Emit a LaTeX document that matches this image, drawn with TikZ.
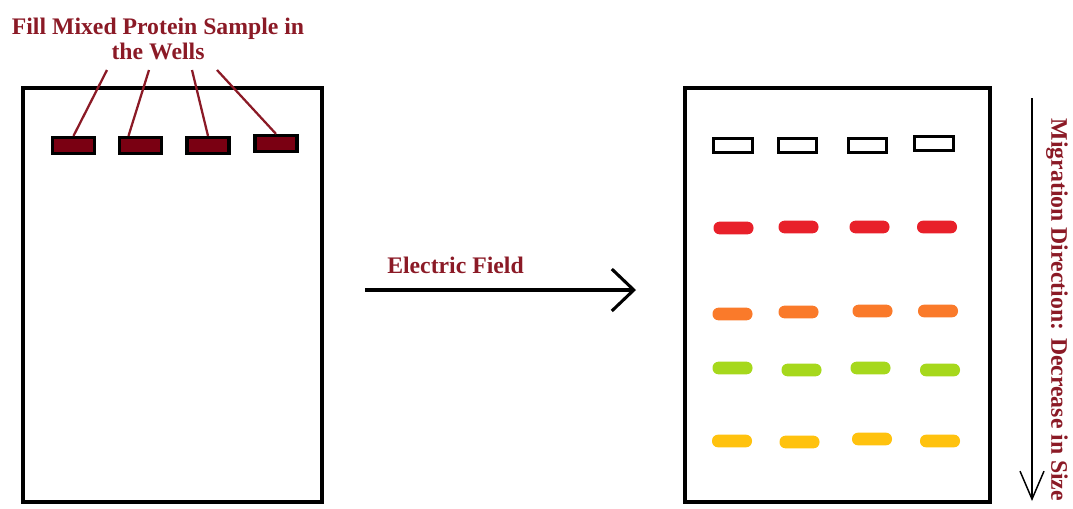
\documentclass[tikz,border=0pt]{standalone}
\usepackage{fontspec}
\setmainfont{Liberation Serif}
\usetikzlibrary{arrows.meta}
\definecolor{wine}{HTML}{8B1A26}
\definecolor{wellfill}{HTML}{7A0012}
\definecolor{bred}{HTML}{E8202A}
\definecolor{borange}{HTML}{FA7A2A}
\definecolor{bgreen}{HTML}{A6D81C}
\definecolor{byellow}{HTML}{FFC20E}
\begin{document}
\begin{tikzpicture}[x=0.75pt,y=-0.75pt,
  gel/.style={draw=black, line width=2.3pt},
  fullwell/.style={draw=black, line width=2.4pt, fill=wellfill, minimum width=31.5pt, minimum height=12pt, inner sep=0pt},
  emptywell/.style={draw=black, line width=2.4pt, fill=white, minimum width=29pt, minimum height=10.5pt, inner sep=0pt},
  band/.style={rounded corners=4.5pt, minimum width=30pt, minimum height=9.5pt, inner sep=0pt},
  label/.style={text=wine, font=\bfseries\fontsize{17.8}{19}\selectfont, inner sep=0pt},
  pointer/.style={draw=wine, line width=1.7pt},
]
\useasboundingbox (0,0) rectangle (1073,508);
% gels
\draw[gel] (23,88) rectangle (322,502);
\draw[gel] (685,88) rectangle (990,502);
% title
\node[label, align=center] (title) at (158,39) {Fill Mixed Protein Sample in\\the Wells};
% left wells
\node[fullwell] (w1) at (73.5,145.5) {};
\node[fullwell] (w2) at (140.5,145.5) {};
\node[fullwell] (w3) at (208,145.5) {};
\node[fullwell] (w4) at (276,143.5) {};
\coordinate (p1) at (107,70);
\coordinate (p2) at (149,70);
\coordinate (p3) at (192,70);
\coordinate (p4) at (217,70);
\draw[pointer] (p1) -- (w1.north);
\draw[pointer] (p2) -- ([xshift=-9pt]w2.north);
\draw[pointer] (p3) -- (w3.north);
\draw[pointer] (p4) -- (w4.north);
% electric field
\coordinate (e1) at (365,290);
\coordinate (e2) at (636,290);
\draw[line width=2.3pt, -{Straight Barb[length=16.5pt,width=31.5pt,line width=2.3pt]}] (e1) -- (e2);
\node[label, anchor=south west] (ef) at (387,274) {Electric Field};
% right wells
\node[emptywell] (r1) at (733,145.5) {};
\node[emptywell] (r2) at (797.5,145.5) {};
\node[emptywell] (r3) at (867.5,145.5) {};
\node[emptywell] (r4) at (934,143.5) {};
% red bands
\node[band, fill=bred] (a1) at (733.5,228) {};
\node[band, fill=bred] (a2) at (798.5,227) {};
\node[band, fill=bred] (a3) at (869.5,227) {};
\node[band, fill=bred] (a4) at (937,227) {};
% orange bands
\node[band, fill=borange] (b1) at (732.5,314) {};
\node[band, fill=borange] (b2) at (798.5,312) {};
\node[band, fill=borange] (b3) at (872.5,311) {};
\node[band, fill=borange] (b4) at (938,311) {};
% green bands
\node[band, fill=bgreen] (c1) at (732.5,368) {};
\node[band, fill=bgreen] (c2) at (801.5,370) {};
\node[band, fill=bgreen] (c3) at (870.5,368) {};
\node[band, fill=bgreen] (c4) at (940,370) {};
% yellow bands
\node[band, fill=byellow] (d1) at (732,441) {};
\node[band, fill=byellow] (d2) at (799.5,442) {};
\node[band, fill=byellow] (d3) at (872,439) {};
\node[band, fill=byellow] (d4) at (940,441) {};
% migration arrow
\coordinate (m1) at (1032,98);
\coordinate (m2) at (1032,501);
\draw[line width=1.1pt, -{Straight Barb[length=21pt,width=18pt,line width=1.1pt]}] (m1) -- (m2);
\node[label, rotate=-90] (mig) at (1057,310) {Migration Direction: Decrease in Size};
\end{tikzpicture}
\end{document}
